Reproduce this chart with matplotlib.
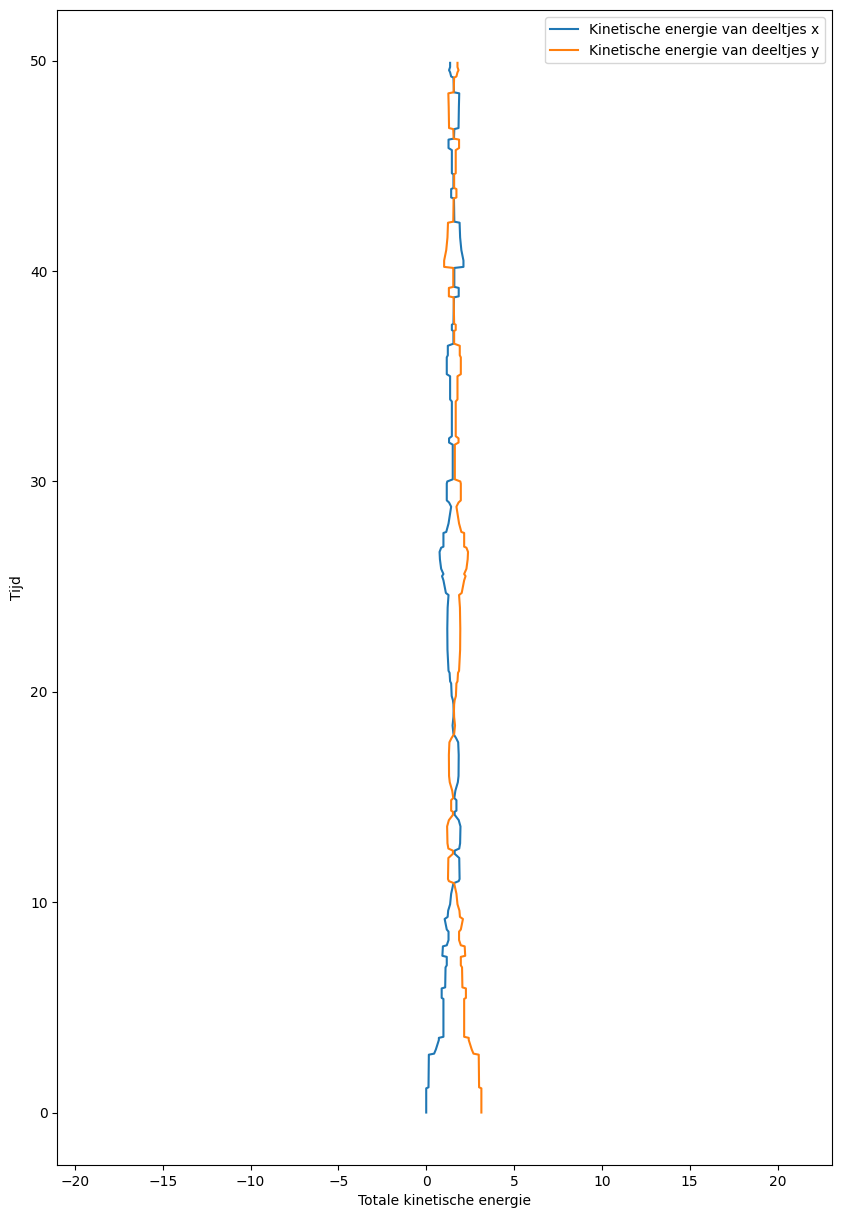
import matplotlib
matplotlib.use("Agg")
import matplotlib.pyplot as plt

tijd = [0.00, 1.15, 1.20, 2.75, 2.80, 3.00, 3.45, 3.55, 3.60, 5.40,
        5.45, 5.90, 5.95, 6.90, 7.00, 7.40, 7.45, 7.90, 7.95, 8.20,
        8.60, 8.70, 9.00, 9.20, 9.30, 9.60, 9.90, 10.40, 10.90, 11.00,
        11.10, 12.10, 12.30, 12.45, 12.55, 12.80, 13.60, 13.90, 14.15, 14.30,
        14.35, 14.85, 14.95, 15.30, 15.70, 16.00, 17.00,
        17.60, 17.80, 18.00, 18.40, 18.80, 19.10, 19.40, 19.60, 19.80, 20.40,
        20.50, 20.90, 21.00, 22.00, 23.00, 24.00, 24.60, 24.70, 25.00, 25.30,
        25.50, 25.60, 25.85, 26.30, 26.65, 26.85, 26.90, 27.55, 27.60, 28.00,
        28.50, 28.80, 29.00, 29.10, 29.90, 30.00, 30.10, 31.75, 31.85, 32.05,
        32.15, 33.80, 33.90, 35.00, 35.10, 35.90, 36.00, 36.45, 36.55, 37.15,
        37.20, 37.45, 37.50, 38.75, 38.80, 39.20, 39.25, 40.15, 40.20, 40.50,
        41.00, 41.60, 42.30, 42.35, 43.45, 43.50, 43.90, 43.95, 44.60, 44.65,
        45.75, 45.85, 46.25, 46.30, 46.75, 46.80, 47.80, 48.45, 48.50, 49.20,
        49.25, 49.45, 49.55, 49.70, 49.90]

energie_x = [0.00, 0.00, 0.13, 0.15, 0.45, 0.55, 0.72, 0.72, 0.98, 0.98,
             0.88, 0.88, 1.08, 1.10, 1.17, 1.17, 0.92, 0.95, 1.17, 1.27,
             1.27, 1.17, 1.10, 1.05, 1.22, 1.25, 1.36, 1.42, 1.55, 1.85,
             1.90, 1.88, 1.62, 1.62, 1.88, 1.93, 1.95, 1.85, 1.62, 1.62,
             1.72, 1.72, 1.60, 1.66, 1.80, 1.84, 1.85,
             1.82, 1.70, 1.55, 1.50, 1.55, 1.56, 1.55, 1.52, 1.45, 1.42,
             1.36, 1.33, 1.27, 1.21, 1.20, 1.22, 1.27, 1.12, 1.05, 0.98,
             0.90, 0.98, 0.85, 0.78, 0.76, 0.85, 0.98, 0.98, 1.14, 1.27,
             1.36, 1.42, 1.30, 1.17, 1.17, 1.20, 1.51, 1.51, 1.30, 1.30,
             1.46, 1.46, 1.36, 1.36, 1.17, 1.17, 1.23, 1.23, 1.55, 1.55,
             1.46, 1.46, 1.55, 1.58, 1.85, 1.85, 1.60, 1.60, 2.12, 2.12,
             2.00, 1.93, 1.90, 1.60, 1.58, 1.42, 1.42, 1.55, 1.55, 1.46,
             1.46, 1.27, 1.27, 1.58, 1.60, 1.84, 1.86, 1.88, 1.58, 1.55,
             1.42, 1.36, 1.30, 1.36, 1.36]

energie_y = [3.14, 3.14, 3.01, 2.99, 2.69, 2.59, 2.42, 2.42, 2.16, 2.16,
             2.26, 2.26, 2.06, 2.04, 1.97, 1.97, 2.22, 2.19, 1.97, 1.87,
             1.87, 1.97, 2.04, 2.09, 1.92, 1.89, 1.78, 1.72, 1.59, 1.29,
             1.24, 1.26, 1.52, 1.52, 1.26, 1.21, 1.19, 1.29, 1.52, 1.52,
             1.42, 1.42, 1.54, 1.48, 1.34, 1.30, 1.29,
             1.32, 1.44, 1.59, 1.64, 1.59, 1.58, 1.59, 1.62, 1.69, 1.72,
             1.78, 1.81, 1.87, 1.93, 1.94, 1.92, 1.87, 2.02, 2.09, 2.16,
             2.24, 2.16, 2.29, 2.36, 2.38, 2.29, 2.16, 2.16, 2.00, 1.87,
             1.78, 1.72, 1.84, 1.97, 1.97, 1.94, 1.63, 1.63, 1.84, 1.84,
             1.68, 1.68, 1.78, 1.78, 1.97, 1.97, 1.91, 1.91, 1.59, 1.59,
             1.68, 1.68, 1.59, 1.56, 1.29, 1.29, 1.54, 1.54, 1.02, 1.02,
             1.14, 1.21, 1.24, 1.54, 1.56, 1.72, 1.72, 1.59, 1.59, 1.68,
             1.68, 1.87, 1.87, 1.56, 1.54, 1.30, 1.28, 1.26, 1.56, 1.59,
             1.72, 1.78, 1.84, 1.78, 1.78]

fig = plt.figure(figsize=(8.42, 12.18), dpi=100)
ax = fig.add_axes([0.0681, 0.0435, 0.920, 0.948])

ax.plot(energie_x, tijd, label="Kinetische energie van deeltjes x")
ax.plot(energie_y, tijd, label="Kinetische energie van deeltjes y")

ax.set_xlim(-21.0, 23.1)
ax.set_ylim(-2.495, 52.395)
ax.set_xlabel("Totale kinetische energie")
ax.set_ylabel("Tijd")
ax.legend(loc="upper right")

fig.savefig("out.png", dpi=100)
